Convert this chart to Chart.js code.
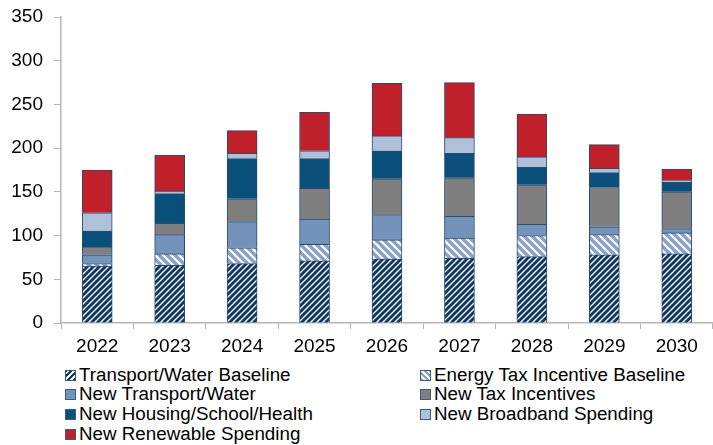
<!DOCTYPE html>
<html>
<head>
<meta charset="utf-8">
<script src="https://cdn.jsdelivr.net/npm/chart.js@4.4.1/dist/chart.umd.min.js"></script>
<style>
  html, body { margin: 0; padding: 0; background: #fff; }
  #wrap { position: relative; width: 713px; height: 445px; overflow: hidden; }
  #chart { position: absolute; left: 0; top: 0; }
  .leg { position: absolute; font: 18.8px "Liberation Sans", Arial, sans-serif; color: #000; line-height: 20px; white-space: nowrap; }
  .leg span.box { display: inline-block; width: 9px; height: 9px; border: 1px solid #3a5a80; margin-right: 3px; vertical-align: 0px; }
</style>
</head>
<body>
<div id="wrap">
  <canvas id="chart" width="713" height="362"></canvas>
  <div id="legend"></div>
</div>
<script>
var years = ['2022', '2023', '2024', '2025', '2026', '2027', '2028', '2029', '2030'];
var transportBaseline = [65, 66, 68, 71, 73, 74, 76, 78, 79];
var energyBaseline = [3, 13, 18, 19, 22, 23, 24, 23, 24];
var newTransport = [10, 22, 30, 29, 29, 25, 13, 9, 5];
var newTax = [9, 13, 26, 35, 41, 44, 45, 45, 42];
var newHousing = [18, 34, 46, 34, 32, 28, 20, 17, 11];
var newBroadband = [21, 3, 6, 9, 17, 18, 12, 5, 2];
var newRenewable = [49, 41, 26, 44, 60, 63, 49, 27, 13];

var seriesNames = [
    'Transport/Water Baseline', 'Energy Tax Incentive Baseline',
    'New Transport/Water', 'New Tax Incentives',
    'New Housing/School/Health', 'New Broadband Spending',
    'New Renewable Spending'
];

// diagonal stripe fills for the two baseline series
function stripes(color, size, width, forward) {
    var c = document.createElement('canvas');
    c.width = size;
    c.height = size;
    var g = c.getContext('2d');
    g.fillStyle = '#fff';
    g.fillRect(0, 0, size, size);
    g.strokeStyle = color;
    g.lineWidth = width;
    g.beginPath();
    for (var k = -1; k <= 1; k++) {
        if (forward) {
            g.moveTo(k * size - 1, size + 1);
            g.lineTo(k * size + size + 1, -1);
        } else {
            g.moveTo(k * size - 1, -1);
            g.lineTo(k * size + size + 1, size + 1);
        }
    }
    g.stroke();
    return g.createPattern(c, 'repeat');
}

var ctx = document.getElementById('chart').getContext('2d');
var fills = [
    stripes('#0e3767', 6, 3.0, true),
    stripes('#8aa2c8', 8, 3.4, false),
    '#7393bb', '#7f7f7f', '#0b4f7b', '#afc1d9', '#c0202a'
];
var cssFills = [
    'repeating-linear-gradient(-45deg, #0e3767 0 2px, #fff 2px 4px)',
    'repeating-linear-gradient(45deg, #8aa2c8 0 2px, #fff 2px 4px)',
    '#7393bb', '#7f7f7f', '#0b4f7b', '#afc1d9', '#c0202a'
];
var values = [transportBaseline, energyBaseline, newTransport, newTax, newHousing, newBroadband, newRenewable];

var datasets = [];
for (var i = 0; i < values.length; i++) {
    datasets.push({
        label: seriesNames[i],
        data: values[i],
        backgroundColor: fills[i],
        borderColor: '#2b4a72',
        borderWidth: 1,
        barThickness: 30
    });
}

var axisGrey = '#b5b5b5';
new Chart(ctx, {
    type: 'bar',
    data: { labels: years, datasets: datasets },
    options: {
        responsive: false,
        animation: false,
        layout: { padding: { top: 0, right: 0, left: 0, bottom: 0 } },
        plugins: { legend: { display: false }, tooltip: { enabled: false } },
        scales: {
            x: {
                stacked: true,
                grid: { drawOnChartArea: false, color: axisGrey, tickLength: 6, offset: true },
                border: { color: axisGrey, width: 1.5 },
                ticks: { color: '#000', font: { family: 'Liberation Sans', size: 19 }, padding: 6 },
                afterFit: function (s) { s.height = 39; }
            },
            y: {
                stacked: true,
                min: 0,
                max: 350,
                grid: { drawOnChartArea: false, color: axisGrey, tickLength: 7 },
                border: { color: axisGrey, width: 1.5 },
                ticks: { stepSize: 50, color: '#000', font: { family: 'Liberation Sans', size: 19, lineHeight: 1.0 }, padding: 11 },
                afterFit: function (s) { s.width = 61; s.paddingTop = 17; }
            }
        }
    }
});

// two-column legend below the plot
var legend = document.getElementById('legend');
var colX = [65, 420];
var rowY = [365, 384, 404, 424];
for (var j = 0; j < seriesNames.length; j++) {
    var d = document.createElement('div');
    d.className = 'leg';
    d.style.left = colX[j % 2] + 'px';
    d.style.top = rowY[Math.floor(j / 2)] + 'px';
    d.innerHTML = '<span class="box" style="background:' + cssFills[j] + '"></span>' + seriesNames[j];
    legend.appendChild(d);
}
</script>
</body>
</html>
